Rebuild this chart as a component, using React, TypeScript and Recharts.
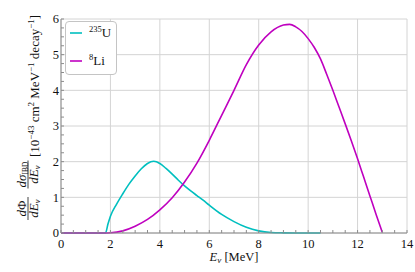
import React from 'react'
import { LineChart, Line, XAxis, YAxis, CartesianGrid, Legend } from 'recharts'

// 235U spectrum
const u235Energy = [0, 1.8, 1.9, 2, 2.25, 2.5, 2.75, 3, 3.25, 3.5, 3.75, 4, 4.25, 4.5, 4.75, 5, 5.25, 5.5, 5.75, 6, 6.5, 7, 7.5, 8, 8.5, 9, 9.5, 10.5]
const u235Rate = [0, 0, 0.25, 0.47, 0.81, 1.1, 1.37, 1.6, 1.8, 1.95, 2.01, 1.95, 1.81, 1.65, 1.48, 1.32, 1.18, 1.05, 0.92, 0.78, 0.52, 0.32, 0.16, 0.06, 0.015, 0.004, 0, 0]

// 8Li spectrum
const li8Energy = [0, 1.8, 2, 2.5, 3, 3.5, 4, 4.5, 5, 5.5, 6, 6.5, 7, 7.5, 8, 8.5, 9, 9.25, 9.5, 9.75, 10, 10.25, 10.5, 10.75, 11, 11.25, 11.5, 11.75, 12, 12.25, 12.5, 12.75, 13]
const li8Rate = [0, 0, 0.005, 0.06, 0.19, 0.38, 0.65, 0.99, 1.43, 1.96, 2.6, 3.3, 4.0, 4.72, 5.27, 5.64, 5.83, 5.85, 5.78, 5.65, 5.45, 5.2, 4.88, 4.45, 4.0, 3.53, 3.06, 2.58, 2.08, 1.56, 1.04, 0.52, 0.02]

const xMajor = [0, 2, 4, 6, 8, 10, 12, 14]
const xMinor = [0, 0.5, 1, 1.5, 2, 2.5, 3, 3.5, 4, 4.5, 5, 5.5, 6, 6.5, 7, 7.5, 8, 8.5, 9, 9.5, 10, 10.5, 11, 11.5, 12, 12.5, 13, 13.5, 14]
const yMajor = [0, 1, 2, 3, 4, 5, 6]
const yMinor = [0, 0.25, 0.5, 0.75, 1, 1.25, 1.5, 1.75, 2, 2.25, 2.5, 2.75, 3, 3.25, 3.5, 3.75, 4, 4.25, 4.5, 4.75, 5, 5.25, 5.5, 5.75, 6]

const seriesNames = ['235U', '8Li']
const seriesColors = ['#00bfbf', '#bf00bf']
const legendSup = ['235', '8']
const legendBase = ['U', 'Li']

const u235 = u235Energy.map((x, i) => ({ x, y: u235Rate[i] }))
const li8 = li8Energy.map((x, i) => ({ x, y: li8Rate[i] }))

const serif = '"Liberation Serif", "DejaVu Serif", serif'
const frame = '#8c8c8c'
const tickStyle = { fontSize: 12.5, fontFamily: serif, fill: '#111' }

function LegendBox({ payload }: any) {
  return (
    <div style={{ width: 52, height: 54, boxSizing: 'border-box', border: '1px solid #c4c4c4', borderRadius: 4, background: '#fff', position: 'relative', fontFamily: serif, color: '#111' }}>
      {(payload || []).map((p: any, i: number) => (
        <div key={i} style={{ position: 'absolute', left: 4, top: 4 + i * 28, height: 14, display: 'flex', alignItems: 'center' }}>
          <svg width={12} height={4} style={{ display: 'block' }}>
            <line x1={0} x2={12} y1={2} y2={2} stroke={p.color || seriesColors[i]} strokeWidth={1.6} />
          </svg>
          <span style={{ marginLeft: 7, fontSize: 13, lineHeight: '14px', whiteSpace: 'nowrap' }}>
            <span style={{ fontSize: 8.5, position: 'relative', top: -5 }}>{legendSup[i]}</span>
            {legendBase[i]}
          </span>
        </div>
      ))}
    </div>
  )
}

function XTitle({ viewBox }: any) {
  const { x, y, width } = viewBox
  return (
    <text x={x + width / 2} y={y + 28} textAnchor="middle" fontFamily={serif} fontSize={12.5} fill="#111">
      <tspan fontStyle="italic">E</tspan>
      <tspan fontStyle="italic" fontSize={9} dy={2}>ν</tspan>
      <tspan dy={-2}> [MeV]</tspan>
    </text>
  )
}

function Frac({ cx, w, num }: { cx: number; w: number; num: React.ReactNode }) {
  return (
    <g>
      <text x={cx} y={-2.5} textAnchor="middle">{num}</text>
      <line x1={cx - w / 2} x2={cx + w / 2} y1={0} y2={0} stroke="#111" strokeWidth={0.8} />
      <text x={cx} y={10} textAnchor="middle">
        <tspan fontStyle="italic">dE</tspan>
        <tspan fontStyle="italic" fontSize={8.5} dy={2}>ν</tspan>
      </text>
    </g>
  )
}

function YTitle({ viewBox }: any) {
  const { y, height } = viewBox
  return (
    <g transform={`translate(28, ${y + height - 13}) rotate(-90)`} fontFamily={serif} fontSize={13} fill="#111">
      <Frac cx={11.5} w={23} num={<><tspan fontStyle="italic">d</tspan><tspan>Φ</tspan></>} />
      <Frac cx={45.5} w={28} num={<><tspan fontStyle="italic">dσ</tspan><tspan fontSize={7.5} dy={2}>IBD</tspan></>} />
      <text x={63} y={10.5}>
        <tspan>[10</tspan>
        <tspan fontSize={9} dy={-5}>−43</tspan>
        <tspan dy={5}> cm</tspan>
        <tspan fontSize={9} dy={-5}>2</tspan>
        <tspan dy={5}> MeV</tspan>
        <tspan fontSize={9} dy={-5}>−1</tspan>
        <tspan dy={5}> decay</tspan>
        <tspan fontSize={9} dy={-5}>−1</tspan>
        <tspan dy={5}>]</tspan>
      </text>
    </g>
  )
}

export default function App() {
  return (
    <div style={{ position: 'absolute', left: 0, top: 0, background: '#fff', fontFamily: serif }}>
      <LineChart width={415} height={272} margin={{ top: 19, right: 8, left: 0, bottom: 0 }} style={{ fontFamily: serif }}>
        <CartesianGrid stroke="#d4d4d4" strokeWidth={1} verticalValues={xMajor} horizontalValues={yMajor} />
        <XAxis
          dataKey="x"
          type="number"
          domain={[0, 14]}
          ticks={xMinor}
          interval={0}
          height={39}
          tickFormatter={(v: number) => (xMajor.includes(v) ? String(v) : '')}
          tick={tickStyle}
          tickSize={-3}
          tickMargin={9}
          axisLine={{ stroke: frame }}
          tickLine={{ stroke: frame }}
          label={<XTitle />}
        />
        <XAxis
          xAxisId="top"
          orientation="top"
          type="number"
          domain={[0, 14]}
          ticks={xMinor}
          interval={0}
          height={0}
          tick={false}
          tickSize={-3}
          axisLine={{ stroke: frame }}
          tickLine={{ stroke: frame }}
        />
        <YAxis
          type="number"
          domain={[0, 6]}
          ticks={yMinor}
          interval={0}
          width={61}
          tickFormatter={(v: number) => (yMajor.includes(v) ? String(v) : '')}
          tick={tickStyle}
          tickSize={-3}
          tickMargin={5}
          axisLine={{ stroke: frame }}
          tickLine={{ stroke: frame }}
          label={<YTitle />}
        />
        <YAxis
          yAxisId="right"
          orientation="right"
          type="number"
          domain={[0, 6]}
          ticks={yMinor}
          interval={0}
          width={0}
          tick={false}
          tickSize={-3}
          axisLine={{ stroke: frame }}
          tickLine={{ stroke: frame }}
        />
        <Legend
          layout="horizontal"
          align="center"
          verticalAlign="middle"
          content={<LegendBox />}
          wrapperStyle={{ position: 'absolute', left: 65, top: 21, width: 52, height: 54 }}
        />
        <Line data={u235} dataKey="y" name={seriesNames[0]} type="monotone" stroke={seriesColors[0]} strokeWidth={1.6} dot={false} isAnimationActive={false} />
        <Line data={li8} dataKey="y" name={seriesNames[1]} type="monotone" stroke={seriesColors[1]} strokeWidth={1.6} dot={false} isAnimationActive={false} />
      </LineChart>
    </div>
  )
}
